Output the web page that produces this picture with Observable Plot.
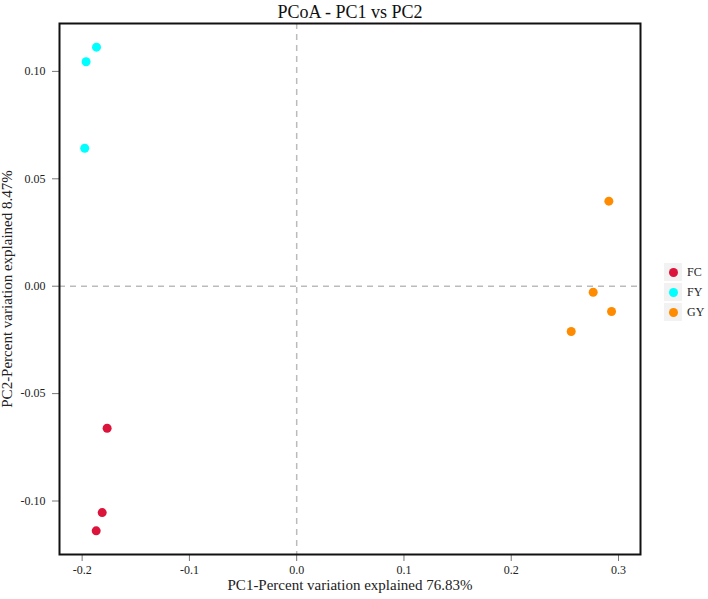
<!DOCTYPE html>
<html><head><meta charset="utf-8">
<script src="https://cdn.jsdelivr.net/npm/d3@7"></script>
<script src="https://cdn.jsdelivr.net/npm/@observablehq/plot@0.6"></script>
<style>
body{margin:0;background:#fff;}
#wrap{position:relative;width:708px;height:599px;font-family:"Liberation Serif","Times New Roman",serif;}
#legend{position:absolute;left:664px;top:263px;}
.row{display:flex;align-items:center;height:18px;margin-bottom:2px;}
.key{width:18px;height:18px;background:#f2f2f2;display:flex;align-items:center;justify-content:center;}
.key span{display:block;width:9px;height:9px;border-radius:50%;}
.lab{margin-left:5px;font-size:12px;color:#222;line-height:18px;}
</style></head>
<body><div id="wrap"><div id="legend"></div></div>
<script>
const groups = ["FC", "FY", "GY"];
const colors = ["#DC143C", "#00FFFF", "#FF8C00"];
const sampleGroup = ["FC", "FC", "FC", "FY", "FY", "FY", "GY", "GY", "GY", "GY"];
const pc1 = [-0.1767, -0.1813, -0.1869, -0.1866, -0.1963, -0.1976, 0.2910, 0.2764, 0.2935, 0.2559];
const pc2 = [-0.0661, -0.1054, -0.1139, 0.1113, 0.1045, 0.0642, 0.0396, -0.0028, -0.0118, -0.0211];
const xTicks = [-0.2, -0.1, 0, 0.1, 0.2, 0.3];
const yTicks = [-0.1, -0.05, 0, 0.05, 0.1];
const titleText = "PCoA - PC1 vs PC2";
const xLabel = "PC1-Percent variation explained 76.83%";
const yLabel = "PC2-Percent variation explained 8.47%";

const data = pc1.map((x, i) => ({x, y: pc2[i], group: sampleGroup[i]}));

const chart = Plot.plot({
  width: 708,
  height: 599,
  marginLeft: 59,
  marginRight: 68,
  marginTop: 23,
  marginBottom: 45,
  style: {fontFamily: '"Liberation Serif","Times New Roman",serif', fontSize: "12px", color: "#222", background: "#fff"},
  x: {domain: [-0.2211, 0.3205]},
  y: {domain: [-0.1249, 0.1223]},
  color: {domain: groups, range: colors},
  marks: [
    Plot.ruleX([0], {stroke: "#bbb", strokeWidth: 1.5, strokeDasharray: "6,5"}),
    Plot.ruleY([0], {stroke: "#bbb", strokeWidth: 1.5, strokeDasharray: "6,5"}),
    Plot.dot(data, {x: "x", y: "y", fill: "group", r: 4.5}),
    Plot.axisX({ticks: xTicks, tickFormat: d => d.toFixed(1), tickSize: 7, tickPadding: 3.5, stroke: "#777", fill: "#222", fontSize: 12, label: null}),
    Plot.axisY({ticks: yTicks, tickFormat: d => d.toFixed(2), tickSize: 7, tickPadding: 7, stroke: "#777", fill: "#222", fontSize: 12, label: null}),
    Plot.frame({stroke: "#111", strokeWidth: 2}),
    Plot.text([titleText], {frameAnchor: "top", textAnchor: "middle", lineAnchor: "middle", dy: -11, fontSize: 18, fill: "#111"}),
    Plot.text([xLabel], {frameAnchor: "bottom", textAnchor: "middle", lineAnchor: "middle", dy: 31, fontSize: 15, fill: "#222"}),
    Plot.text([yLabel], {frameAnchor: "left", textAnchor: "middle", lineAnchor: "middle", dx: -52, rotate: -90, fontSize: 15, fill: "#222"})
  ]
});
const wrap = document.getElementById("wrap");
wrap.insertBefore(chart, wrap.firstChild);

const legend = document.getElementById("legend");
groups.forEach((g, i) => {
  const row = document.createElement("div");
  row.className = "row";
  row.innerHTML = `<div class="key"><span style="background:${colors[i]}"></span></div><div class="lab">${g}</div>`;
  legend.appendChild(row);
});
</script>
</body></html>
